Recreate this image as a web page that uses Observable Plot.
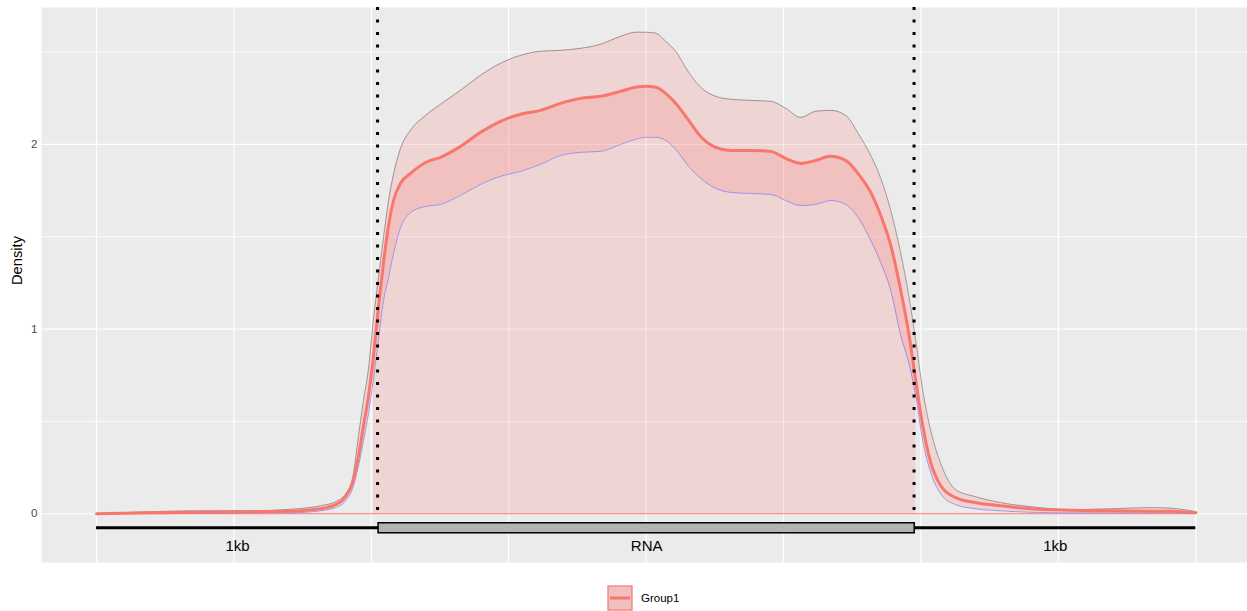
<!DOCTYPE html>
<html><head><meta charset="utf-8">
<script src="https://cdn.jsdelivr.net/npm/d3@7"></script>
<script src="https://cdn.jsdelivr.net/npm/@observablehq/plot@0.6"></script>
<style>
body{margin:0;background:#fff;font-family:"Liberation Sans",Arial,sans-serif;}
#wrap{position:relative;width:1247px;height:611px;overflow:hidden;}
#legend{position:absolute;left:607px;top:585px;display:flex;align-items:center;gap:8px;font-size:11.5px;color:#000;}
</style></head><body>
<div id="wrap"><div id="chart"></div><div id="legend"></div></div>
<script>
// relative position along the metagene (0 = start of upstream 1kb, 1 = end of downstream 1kb)
const position = [0,0.0491,0.0946,0.1401,0.1765,0.2038,0.2175,0.2266,0.2329,0.2384,0.2429,0.2475,0.2520,0.2566,0.2611,0.2657,0.2702,0.2766,0.2857,0.2994,0.3130,0.3312,0.3494,0.3676,0.3858,0.4040,0.4222,0.4404,0.4586,0.4768,0.4904,0.4995,0.5086,0.5177,0.5268,0.5387,0.5496,0.5632,0.5769,0.5951,0.6133,0.6269,0.6406,0.6542,0.6679,0.6815,0.6934,0.7043,0.7134,0.7225,0.7316,0.7389,0.7452,0.7516,0.7589,0.7680,0.7816,0.7998,0.8226,0.8499,0.8863,0.9227,0.9590,0.9773,1];
const densityUpper = [0,0.011,0.016,0.016,0.024,0.043,0.065,0.108,0.190,0.423,0.612,0.786,1.057,1.279,1.496,1.696,1.837,1.978,2.076,2.157,2.217,2.293,2.374,2.439,2.482,2.504,2.509,2.520,2.542,2.585,2.607,2.607,2.602,2.558,2.504,2.390,2.309,2.260,2.244,2.238,2.233,2.195,2.146,2.179,2.184,2.157,2.054,1.940,1.816,1.642,1.409,1.182,0.938,0.667,0.450,0.271,0.130,0.092,0.060,0.038,0.022,0.027,0.033,0.030,0.011];
const densityMean = [0,0.005,0.008,0.011,0.014,0.027,0.049,0.092,0.168,0.314,0.477,0.640,0.856,1.127,1.360,1.561,1.696,1.789,1.843,1.902,1.930,1.989,2.065,2.125,2.163,2.184,2.222,2.249,2.260,2.287,2.309,2.314,2.309,2.276,2.222,2.130,2.043,1.984,1.967,1.967,1.962,1.924,1.897,1.913,1.935,1.913,1.837,1.740,1.615,1.453,1.209,0.976,0.721,0.477,0.276,0.152,0.087,0.060,0.043,0.027,0.019,0.016,0.014,0.014,0.005];
const densityLower = [0,0.003,0.003,0.005,0.005,0.016,0.033,0.070,0.136,0.260,0.396,0.547,0.732,0.949,1.154,1.279,1.409,1.550,1.631,1.664,1.675,1.724,1.783,1.827,1.854,1.892,1.940,1.957,1.962,2.000,2.027,2.038,2.038,2.022,1.973,1.881,1.816,1.762,1.740,1.734,1.729,1.696,1.669,1.675,1.696,1.675,1.599,1.480,1.360,1.209,0.965,0.818,0.640,0.396,0.222,0.108,0.049,0.027,0.016,0.008,0.005,0.005,0.005,0.005,0.003];
const componentLabels = ["1kb","RNA","1kb"];
const componentStart = [0,0.2566,0.7443];
const componentEnd = [0.2566,0.7443,1];
const componentType = ["flank","rna","flank"];
const boundaryLines = [0.2557,0.7437];
const yTickValues = [0,1,2];
const yGridValues = [0,0.5,1,1.5,2,2.5];
const xGridValues = [0,0.125,0.25,0.375,0.5,0.625,0.75,0.875,1];
const groupNames = ["Group1"];

const rows = position.map((x,i)=>({x, upper:densityUpper[i], mean:densityMean[i], lower:densityLower[i]}));
const comps = componentLabels.map((label,i)=>({label, start:componentStart[i], end:componentEnd[i], type:componentType[i]}));
const rnaComp = comps.find(d=>d.type==="rna");
const rnaRows = rows.filter(d=>d.x>=0.25 && d.x<=0.746);

const yDomain=[-0.264,2.741];
const col="#F8766D";
const trackY=-0.076, boxTop=-0.0515, boxBot=-0.1057, labelY=-0.173, dotEnd=-0.03;
const cv="monotone-x";

const chart = Plot.plot({
  width:1247, height:575,
  marginLeft:41, marginRight:0, marginTop:7, marginBottom:13,
  style:{fontFamily:"'Liberation Sans', Arial, sans-serif", background:"white"},
  x:{domain:[-0.05,1.047], axis:null},
  y:{domain:yDomain, axis:null},
  marks:[
    Plot.frame({fill:"#EBEBEB", stroke:null}),
    Plot.ruleY(yGridValues.filter(v=>v%1!==0), {stroke:"white", strokeWidth:0.8}),
    Plot.ruleX(xGridValues, {stroke:"white", strokeWidth:1.2}),
    Plot.ruleY(yGridValues.filter(v=>v%1===0), {stroke:"white", strokeWidth:1.2}),
    Plot.areaY(rnaRows, {x:"x", y:"mean", fill:col, fillOpacity:0.2, curve:cv}),
    Plot.areaY(rows, {x:"x", y1:"lower", y2:"upper", fill:col, fillOpacity:0.2, curve:cv}),
    Plot.ruleY([0], {x1:position[0], x2:position[position.length-1], stroke:col, strokeWidth:1}),
    Plot.line(rows, {x:"x", y:"upper", stroke:"#8E8282", strokeWidth:0.8, curve:cv}),
    Plot.line(rows, {x:"x", y:"lower", stroke:"#8F7FEF", strokeWidth:0.8, curve:cv}),
    Plot.line(rows, {x:"x", y:"mean", stroke:col, strokeWidth:3, curve:cv}),
    Plot.ruleX(boundaryLines, {y1:yDomain[1], y2:dotEnd, stroke:"black", strokeWidth:3, strokeDasharray:"3,9.5"}),
    Plot.ruleY([trackY], {x1:componentStart[0], x2:componentEnd[componentEnd.length-1], stroke:"black", strokeWidth:3}),
    Plot.rect([rnaComp], {x1:"start", x2:"end", y1:boxTop, y2:boxBot, fill:"#B3B3B3", stroke:"black", strokeWidth:1.5}),
    Plot.text(comps, {x:d=>(d.start+d.end)/2, y:labelY, text:"label", fontSize:15, fill:"black"}),
    Plot.text(yTickValues, {y:d=>d, text:d=>String(d), frameAnchor:"left", textAnchor:"end", dx:-4, fill:"#4D4D4D", fontSize:11.7}),
    Plot.text(["Density"], {text:d=>d, frameAnchor:"left", rotate:-90, dx:-24, fill:"black", fontSize:14.7})
  ]
});
document.getElementById("chart").appendChild(chart);

const leg = document.getElementById("legend");
groupNames.forEach(g=>{
  const ns="http://www.w3.org/2000/svg";
  const s=document.createElementNS(ns,"svg");
  s.setAttribute("width","26");s.setAttribute("height","26");
  s.innerHTML=`<rect x="1" y="1" width="24" height="24" fill="#F0C0BE" stroke="${col}" stroke-opacity="0.8" stroke-width="1.5"/><line x1="3" x2="23" y1="13" y2="13" stroke="${col}" stroke-width="3"/>`;
  const t=document.createElement("span"); t.textContent=g;
  leg.appendChild(s); leg.appendChild(t);
});
</script>
</body></html>
